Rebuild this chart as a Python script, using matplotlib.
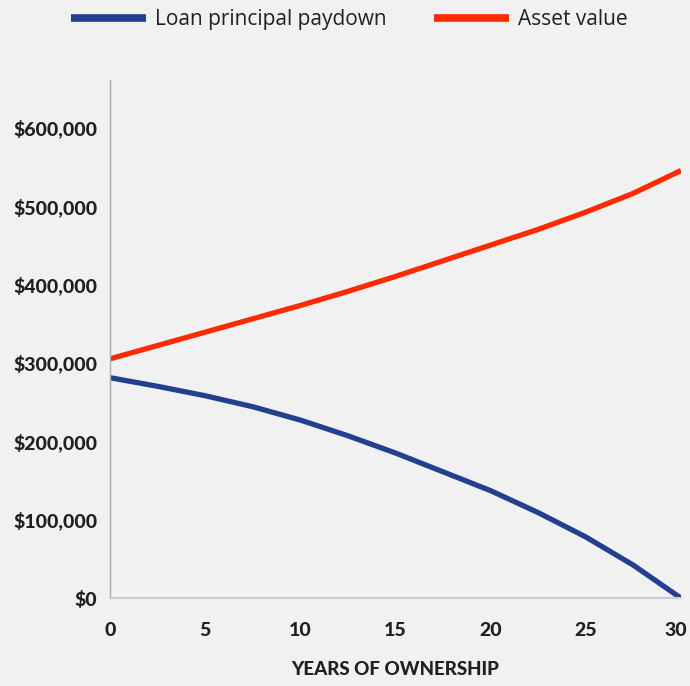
import matplotlib.pyplot as plt
from matplotlib.transforms import ScaledTranslation

# Values (dollars, in thousands)
years = [0, 2.5, 5, 7.5, 10, 12.5, 15, 17.5, 20, 22.5, 25, 27.5, 30]
loan_balance = [281, 270, 258, 244, 227, 207, 185, 161, 137, 109, 78, 42, 0]
asset_value = [305, 322, 339, 356, 373, 391, 410, 430, 450, 470, 492, 516, 545]

x_ticks = [0, 5, 10, 15, 20, 25, 30]
y_ticks = [0, 100, 200, 300, 400, 500, 600]
y_tick_labels = ['$0', '$100,000', '$200,000', '$300,000', '$400,000',
                 '$500,000', '$600,000']

bg = '#f1f1f1'
text_color = '#231f20'
plt.rcParams['font.family'] = ['Lato', 'DejaVu Sans']

fig = plt.figure(figsize=(6.9, 6.86), dpi=100, facecolor=bg)
ax = fig.add_axes([0.1594, 0.128, 0.8276, 0.755], facecolor=bg)

ax.plot(years, loan_balance, color='#233f8f', lw=3.8,
        solid_capstyle='butt', solid_joinstyle='round',
        label='Loan principal paydown')
ax.plot(years, asset_value, color='#ff2a00', lw=3.8,
        solid_capstyle='butt', solid_joinstyle='round',
        label='Asset value')

ax.set_xlim(0, 30)
ax.set_ylim(0, 660)

ax.set_xticks(x_ticks)
ax.set_xticklabels([str(t) for t in x_ticks], fontweight=900,
                   fontsize=14, color=text_color)
ax.set_yticks(y_ticks)
ax.set_yticklabels(y_tick_labels, fontweight=900, fontsize=14,
                   color=text_color)
ax.tick_params(axis='x', length=0, pad=17)
ax.tick_params(axis='y', length=0, pad=9)

# nudge the last x label in so it stays inside the figure edge
last = ax.get_xticklabels()[-1]
last.set_transform(last.get_transform() +
                   ScaledTranslation(-4 / 72, 0, fig.dpi_scale_trans))

ax.set_xlabel('YEARS OF OWNERSHIP', fontweight=900, fontsize=13.5,
              color=text_color, labelpad=16)

for side in ['top', 'right']:
    ax.spines[side].set_visible(False)
ax.spines['left'].set_color('#aaaaaa')
ax.spines['left'].set_linewidth(1.0)
ax.spines['bottom'].set_color('#cccccc')
ax.spines['bottom'].set_linewidth(1.5)

leg = fig.legend(loc='center', bbox_to_anchor=(0.506, 0.971), ncol=2,
                 frameon=False, prop={'family': ['Open Sans', 'DejaVu Sans'],
                                      'size': 15},
                 handlelength=3.6, handletextpad=0.43, columnspacing=2.25)
for line in leg.get_lines():
    line.set_linewidth(5.5)
for txt in leg.get_texts():
    txt.set_color(text_color)

fig.savefig('out.png', dpi=100, facecolor=bg)
